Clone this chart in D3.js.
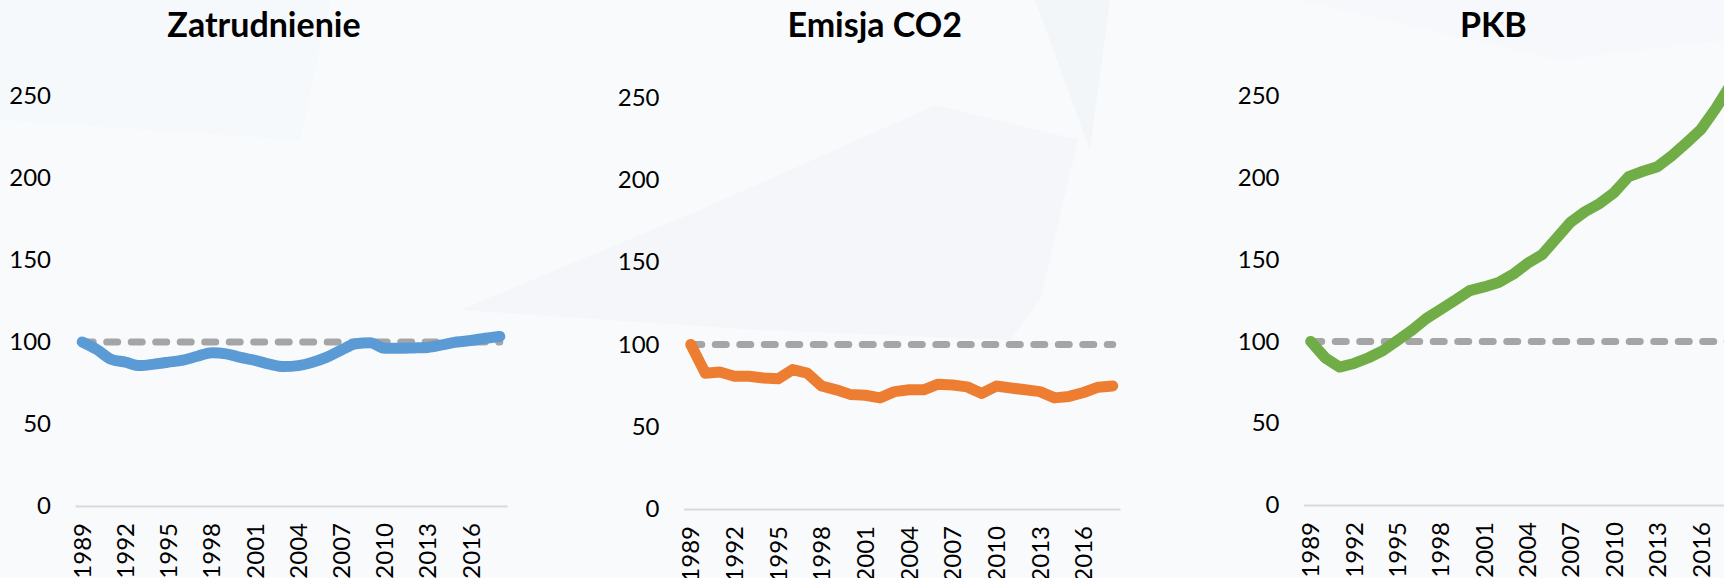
<!DOCTYPE html>
<html>
<head>
<meta charset="utf-8">
<script src="https://cdn.jsdelivr.net/npm/d3@7"></script>
<style>
  html, body { margin: 0; padding: 0; background: #f8fafc; overflow: hidden; }
  svg { display: block; font-family: Lato, "Open Sans", sans-serif; }
</style>
</head>
<body>
<div class="vis-area"></div>
<script>
var width = 1724;
var height = 578;

// Years on the category axis
var years = [1989, 1990, 1991, 1992, 1993, 1994, 1995, 1996, 1997, 1998,
  1999, 2000, 2001, 2002, 2003, 2004, 2005, 2006, 2007, 2008,
  2009, 2010, 2011, 2012, 2013, 2014, 2015, 2016, 2017, 2018];
var yearLabels = [1989, 1992, 1995, 1998, 2001, 2004, 2007, 2010, 2013, 2016];
var yTicks = [0, 50, 100, 150, 200, 250];

// Index values, 1989 = 100
var employment = [100, 95.5, 89.5, 87.7, 85.6, 86.5, 87.7, 89, 91.3, 93.5,
  92.8, 90.6, 88.8, 86.5, 85, 85.6, 87.7, 90.8, 95.1, 98.9,
  99.6, 96.2, 96.2, 96.4, 96.7, 98.2, 100, 100.9, 102.3, 103.4];
var co2 = [100, 82.5, 83.2, 80.7, 80.7, 79.6, 79.1, 84.7, 82.5, 74.7,
  72.4, 69.5, 69.1, 67.5, 71.3, 72.4, 72.4, 75.8, 75.3, 74.2,
  70.2, 74.7, 73.5, 72.4, 71.3, 67.5, 68.4, 70.8, 74, 74.7];
var gdp = [100, 90, 84.3, 86.5, 90, 94.4, 100.5, 106.8, 114, 119.6,
  125.2, 131, 133.3, 136, 141, 147.7, 152.9, 163, 173, 179.4,
  184.3, 191, 200.7, 204, 206.8, 213.6, 221.4, 229.5, 242, 256];
var baseline = [100, 100, 100, 100, 100, 100, 100, 100, 100, 100,
  100, 100, 100, 100, 100, 100, 100, 100, 100, 100,
  100, 100, 100, 100, 100, 100, 100, 100, 100, 100];

var panels = [
  {title: 'Zatrudnienie', values: employment, color: '#5b9bd5', left: 75, right: 507, top: 96, bottom: 506, smooth: true},
  {title: 'Emisja CO2', values: co2, color: '#ed7d31', left: 683.5, right: 1120, top: 97.5, bottom: 509, smooth: false},
  {title: 'PKB', values: gdp, color: '#70ad47', left: 1303.5, right: 1737, top: 96, bottom: 505, smooth: false}
];

var svg = d3.select('.vis-area')
  .append('svg')
  .attr('width', width)
  .attr('height', height);

// faint background shapes
var bg = svg.append('g');
bg.append('rect').attr('width', width).attr('height', height).attr('fill', '#f9fafc');
bg.append('polygon')
  .attr('points', '460,310 700,210 936,105 1078,140 1040,300 1010,340 760,330')
  .attr('fill', '#eef2f7').attr('opacity', 0.45);
bg.append('polygon')
  .attr('points', '1035,0 1110,0 1090,150')
  .attr('fill', '#e9eff6').attr('opacity', 0.4);
bg.append('polygon')
  .attr('points', '1300,0 1724,0 1724,40 1560,60')
  .attr('fill', '#f0f4f9').attr('opacity', 0.25);
bg.append('polygon')
  .attr('points', '0,0 330,0 300,140 0,120')
  .attr('fill', '#f2f5f9').attr('opacity', 0.35);

panels.forEach(function(p) {
  var g = svg.append('g');

  var x = d3.scaleBand().domain(years).range([p.left, p.right]);
  var y = d3.scaleLinear().domain([0, 250]).range([p.bottom, p.top]);
  var cx = function(d, i) { return x(years[i]) + x.bandwidth() / 2; };

  // title
  g.append('text')
    .attr('x', (p.left + p.right) / 2 - 27)
    .attr('y', 37)
    .attr('text-anchor', 'middle')
    .attr('font-size', 34)
    .attr('font-weight', 'bold')
    .attr('fill', '#000')
    .text(p.title);

  // y axis labels
  var yAxis = g.append('g')
    .attr('transform', 'translate(' + p.left + ',0)')
    .call(d3.axisLeft(y).tickValues(yTicks).tickSize(0).tickPadding(24));
  yAxis.select('.domain').remove();
  yAxis.selectAll('text')
    .attr('font-size', 24)
    .attr('font-family', 'Lato, sans-serif')
    .attr('fill', '#000');

  // x axis
  var xAxis = g.append('g')
    .attr('transform', 'translate(0,' + p.bottom + ')')
    .call(d3.axisBottom(x).tickValues(yearLabels).tickSize(0));
  xAxis.select('.domain')
    .attr('stroke', '#d9d9d9')
    .attr('stroke-width', 2);
  xAxis.selectAll('text')
    .attr('font-size', 24)
    .attr('font-family', 'Lato, sans-serif')
    .attr('fill', '#000')
    .attr('text-anchor', 'end')
    .attr('transform', 'rotate(-90)')
    .attr('x', -17)
    .attr('y', 0)
    .attr('dy', '0.36em');

  // reference line at 100
  var line = d3.line().x(cx).y(function(d) { return y(d); });
  g.append('path')
    .datum(baseline)
    .attr('d', line)
    .attr('fill', 'none')
    .attr('stroke', '#a5a5a5')
    .attr('stroke-width', 7)
    .attr('stroke-linecap', 'round')
    .attr('stroke-dasharray', '11 13.5');

  var seriesLine = d3.line().x(cx).y(function(d) { return y(d); })
    .curve(p.smooth ? d3.curveMonotoneX : d3.curveLinear);
  g.append('path')
    .datum(p.values)
    .attr('d', seriesLine)
    .attr('fill', 'none')
    .attr('stroke', p.color)
    .attr('stroke-width', 11)
    .attr('stroke-linejoin', 'round')
    .attr('stroke-linecap', 'round');
});
</script>
</body>
</html>
